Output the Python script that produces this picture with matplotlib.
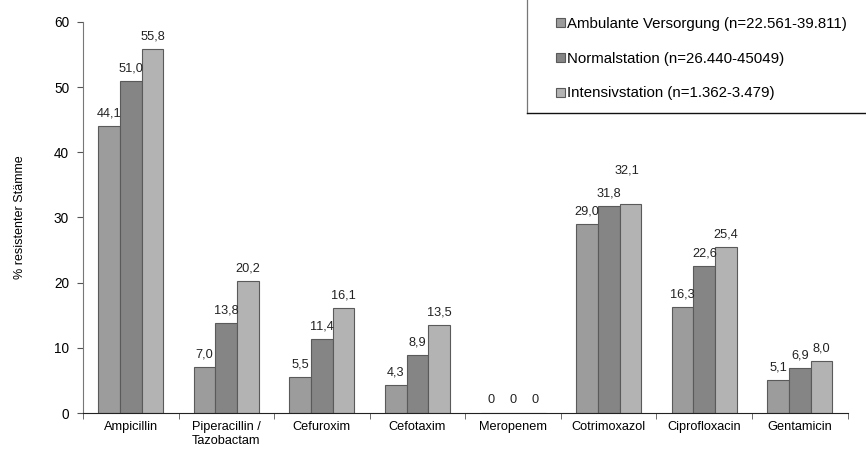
import matplotlib.pyplot as plt
import numpy as np
from matplotlib.lines import Line2D

plt.rcParams['font.family'] = ['Liberation Sans', 'DejaVu Sans']

categories = ['Ampicillin', 'Piperacillin /\nTazobactam', 'Cefuroxim', 'Cefotaxim',
              'Meropenem', 'Cotrimoxazol', 'Ciprofloxacin', 'Gentamicin']
ambulant = [44.1, 7.0, 5.5, 4.3, 0, 29.0, 16.3, 5.1]
normal = [51.0, 13.8, 11.4, 8.9, 0, 31.8, 22.6, 6.9]
intensiv = [55.8, 20.2, 16.1, 13.5, 0, 32.1, 25.4, 8.0]
series_names = ['Ambulante Versorgung (n=22.561-39.811)',
                'Normalstation (n=26.440-45049)',
                'Intensivstation (n=1.362-3.479)']
colors = ['#9c9c9c', '#858585', '#b3b3b3']


def fmt(v):
    return '0' if v == 0 else ('%.1f' % v).replace('.', ',')


fig = plt.figure(figsize=(8.66, 4.5), dpi=100)
ax = fig.add_axes([0.0958, 0.0822, 0.883, 0.869])

x = np.arange(len(categories))
w = 0.227
all_series = [ambulant, normal, intensiv]
for i, (vals, name, col) in enumerate(zip(all_series, series_names, colors)):
    pos = x + (i - 1) * w
    ax.bar(pos, vals, w, color=col, edgecolor='#5a5a5a', linewidth=0.8, label=name)
    for j, (p, v) in enumerate(zip(pos, vals)):
        y = v + 1.0
        dx = 0
        # push a label up when its neighbour bar is almost the same height
        if i > 0 and v > 0 and abs(v - all_series[i - 1][j]) < 0.5:
            y += 3.2
            dx = -0.04
        ax.text(p + dx, y, fmt(v), ha='center', va='bottom', fontsize=9.2, color='#222222')

ax.set_xlim(-0.5, len(categories) - 0.5)
ax.set_ylim(0, 60)
ax.set_yticks(range(0, 61, 10))
ax.set_xticks(x)
ax.set_xticklabels(categories, fontsize=9.2)
ax.set_xticks(np.arange(-0.5, len(categories), 1), minor=True)
ax.tick_params(axis='x', which='major', length=0, pad=6)
ax.tick_params(axis='x', which='minor', length=4, color='#555555')
ax.tick_params(axis='y', labelsize=9.8, length=4, color='#555555', pad=6)
ax.set_ylabel('% resistenter Stämme', fontsize=9, labelpad=20)
for s in ['top', 'right']:
    ax.spines[s].set_visible(False)
ax.spines['left'].set_color('#777777')
ax.spines['bottom'].set_color('#222222')

# legend box: only its left and bottom edges fall inside the figure
fig.legend(loc='upper left', bbox_to_anchor=(0.642, 0.962), fontsize=10.8,
           handlelength=0.58, handleheight=0.58, handletextpad=0.15,
           labelspacing=1.38, frameon=False, borderpad=0, borderaxespad=0)
x0, y0 = 527 / 866, 1 - 113 / 450
fig.add_artist(Line2D([x0, x0], [y0, 1], transform=fig.transFigure, color='#777777', lw=0.9))
fig.add_artist(Line2D([x0, 1], [y0, y0], transform=fig.transFigure, color='#111111', lw=1.0))

fig.savefig('out.png', dpi=100)
